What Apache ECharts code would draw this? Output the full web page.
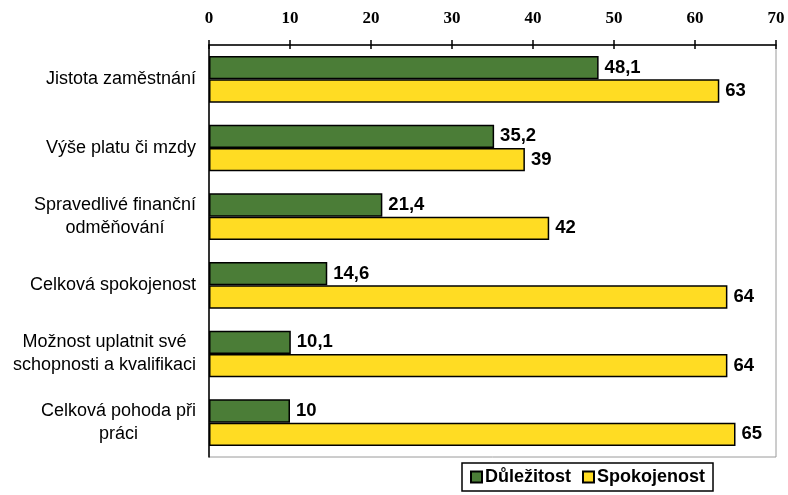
<!DOCTYPE html>
<html>
<head>
<meta charset="utf-8">
<script src="https://cdn.jsdelivr.net/npm/echarts@6/dist/echarts.min.js"></script>
<style>
  html, body { margin: 0; padding: 0; background: #fff; }
  #chart { width: 788px; height: 495px; }
</style>
</head>
<body>
<div id="chart"></div>
<script>
// data
const categories = [
  'Jistota zaměstnání',
  'Výše platu či mzdy',
  'Spravedlivé finanční\nodměňování',
  'Celková spokojenost',
  'Možnost uplatnit své\nschopnosti a kvalifikaci',
  'Celková pohoda při\npráci'
];
const dulezitost = [48.1, 35.2, 21.4, 14.6, 10.1, 10];
const spokojenost = [63, 39, 42, 64, 64, 65];
const xTicks = { min: 0, max: 70, interval: 10 };

const chart = echarts.init(document.getElementById('chart'));

const valueLabel = {
  show: true,
  position: 'right',
  distance: 6,
  color: '#000',
  fontFamily: 'Liberation Sans, Arial, sans-serif',
  fontWeight: 'bold',
  fontSize: 18.5,
  formatter: (p) => String(p.value).replace('.', ',')
};

const option = {
  animation: false,
  backgroundColor: '#fff',
  grid: {
    left: 209, right: 12, top: 45, bottom: 38,
    show: true, borderColor: '#9a9a9a', borderWidth: 1, backgroundColor: 'transparent'
  },
  legend: {
    left: 462, top: 463,
    padding: [5, 8, 5, 8],
    borderColor: '#000', borderWidth: 1.5,
    itemWidth: 11, itemHeight: 11, itemGap: 11,
    icon: 'rect',
    textStyle: { fontFamily: 'Liberation Sans, Arial, sans-serif', fontWeight: 'bold', fontSize: 18, color: '#000', padding: [0, 0, 0, -2] },
    data: ['Důležitost', 'Spokojenost']
  },
  xAxis: [
    {
      type: 'value', position: 'top',
      min: xTicks.min, max: xTicks.max, interval: xTicks.interval,
      axisLine: { show: true, lineStyle: { color: '#000', width: 1.5 } },
      axisTick: { show: true, length: 5, lineStyle: { color: '#000', width: 1.5 } },
      axisLabel: { margin: 18, color: '#000', fontFamily: 'Liberation Serif, Times New Roman, serif', fontWeight: 'bold', fontSize: 17 },
      splitLine: { show: false }
    },
    {
      type: 'value', position: 'top',
      min: xTicks.min, max: xTicks.max, interval: xTicks.interval,
      axisLine: { show: false },
      axisTick: { show: true, inside: true, length: 4, lineStyle: { color: '#000', width: 1.5 } },
      axisLabel: { show: false },
      splitLine: { show: false }
    }
  ],
  yAxis: {
    type: 'category', inverse: true, data: categories,
    axisLine: { lineStyle: { color: '#000', width: 1.5 } },
    axisTick: { length: 6, lineStyle: { color: '#000', width: 1.5 } },
    axisLabel: {
      margin: 13,
      align: 'right',
      formatter: (v) => v.split('\n').map(s => '{c|' + s + '}').join('\n'),
      rich: {
        c: { align: 'center', color: '#000', fontFamily: 'Liberation Sans, Arial, sans-serif', fontSize: 18, lineHeight: 23 }
      }
    }
  },
  series: [
    {
      name: 'Důležitost', type: 'bar', data: dulezitost,
      barGap: '0%', barCategoryGap: '32%',
      itemStyle: { color: '#4b7d37', borderColor: '#000', borderWidth: 1.5 },
      label: valueLabel
    },
    {
      name: 'Spokojenost', type: 'bar', data: spokojenost,
      barGap: '0%', barCategoryGap: '32%',
      itemStyle: { color: '#ffdc23', borderColor: '#000', borderWidth: 1.5 },
      label: valueLabel
    }
  ]
};

chart.setOption(option);
</script>
</body>
</html>
